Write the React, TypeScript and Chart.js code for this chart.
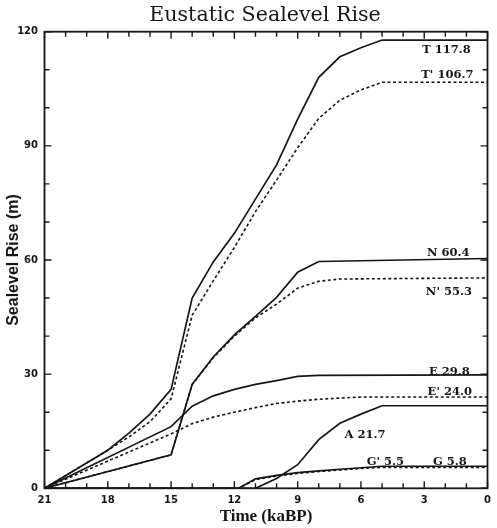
import React, { useEffect, useRef } from "react";
import { Chart, registerables } from "chart.js";

Chart.register(...registerables);

// ---- data: [time kaBP, sea-level rise m] ----
const T_SERIES: [number, number][] = [[21, 0], [18, 10], [17, 14.5], [16, 19.5], [15, 26], [14, 50], [13, 59.5], [12, 67], [11, 76], [10, 85], [9, 97], [8, 108], [7, 113.4], [6, 115.8], [5, 117.8], [0, 117.8]];
const T_PRIME: [number, number][] = [[21, 0], [18, 10], [17, 13.5], [16, 17.5], [15, 23.5], [14, 45.5], [13, 54.5], [12, 63.3], [11, 72.7], [10, 81], [9, 89.5], [8, 97.2], [7, 102], [6, 104.7], [5, 106.7], [0, 106.7]];
const N_SERIES: [number, number][] = [[21, 0], [15, 8.8], [14, 27.3], [13, 34.5], [12, 40.3], [11, 45.2], [10, 50.2], [9, 56.8], [8, 59.6], [0, 60.4]];
const N_PRIME: [number, number][] = [[21, 0], [15, 8.8], [14, 27.3], [13, 34.3], [12, 40], [11, 44.8], [10, 48.4], [9, 52.6], [8, 54.4], [7, 55], [0, 55.3]];
const E_SERIES: [number, number][] = [[21, 0], [15, 16.2], [14, 21.6], [13, 24.3], [12, 26], [11, 27.3], [10, 28.3], [9, 29.4], [8, 29.7], [0, 29.8]];
const E_PRIME: [number, number][] = [[21, 0], [15, 14.3], [14, 17], [13, 18.7], [12, 20], [11, 21.2], [10, 22.3], [9, 22.9], [8, 23.4], [7, 23.7], [6, 24], [0, 24]];
const A_SERIES: [number, number][] = [[21, 0], [11, 0], [10, 2.6], [9, 6.2], [8, 12.8], [7, 17.1], [6, 19.5], [5, 21.7], [0, 21.7]];
const G_SERIES: [number, number][] = [[21, 0], [11.8, 0], [11, 2.5], [10, 3.4], [9, 4.1], [8, 4.6], [7, 5.0], [6, 5.4], [5, 5.8], [0, 5.8]];
const G_PRIME: [number, number][] = [[21, 0], [11.8, 0], [11, 2.3], [10, 3.2], [9, 3.9], [8, 4.4], [7, 4.8], [6, 5.2], [5, 5.5], [0, 5.5]];

const X_MINOR_TICKS = [0, 1, 2, 3, 4, 5, 6, 7, 8, 9, 10, 11, 12, 13, 14, 15, 16, 17, 18, 19, 20, 21];
const Y_MINOR_TICKS = [0, 10, 20, 30, 40, 50, 60, 70, 80, 90, 100, 110, 120];

const TITLE = "Eustatic Sealevel Rise";
const X_TITLE = "Time (kaBP)";
const Y_TITLE = "Sealevel Rise (m)";

// curve labels anchored in data units (right-aligned)
const CURVE_LABELS = [
  { text: "T 117.8", x: 0.79, y: 115.2 },
  { text: "T' 106.7", x: 0.67, y: 108.6 },
  { text: "N 60.4", x: 0.85, y: 61.8 },
  { text: "N' 55.3", x: 0.74, y: 51.7 },
  { text: "E 29.8", x: 0.84, y: 30.5 },
  { text: "E' 24.0", x: 0.74, y: 25.3 },
  { text: "A 21.7", x: 4.84, y: 14.05 },
  { text: "G' 5.5", x: 3.96, y: 7.0 },
  { text: "G 5.8", x: 0.98, y: 7.0 },
];

const INK = "#161616";

const toPoints = (arr: [number, number][]) => arr.map(([x, y]) => ({ x, y }));

const framePlugin = {
  id: "frameTicks",
  afterDraw(chart: any) {
    const { ctx, chartArea, scales } = chart;
    const { left, right, top, bottom } = chartArea;
    const xs = scales.x;
    const ys = scales.y;
    ctx.save();
    ctx.strokeStyle = INK;
    ctx.lineWidth = 1.8;
    ctx.strokeRect(left, top, right - left, bottom - top);
    ctx.lineWidth = 1.4;
    ctx.beginPath();
    for (const v of X_MINOR_TICKS) {
      const px = xs.getPixelForValue(v);
      const len = v % 3 === 0 ? 7 : 5;
      ctx.moveTo(px, bottom);
      ctx.lineTo(px, bottom - len);
      ctx.moveTo(px, top);
      ctx.lineTo(px, top + len);
    }
    for (const v of Y_MINOR_TICKS) {
      const py = ys.getPixelForValue(v);
      const len = v % 30 === 0 ? 7 : 5;
      ctx.moveTo(left, py);
      ctx.lineTo(left + len, py);
      ctx.moveTo(right, py);
      ctx.lineTo(right - len, py);
    }
    ctx.stroke();

    ctx.fillStyle = INK;
    ctx.font = 'bold 11.5px "DejaVu Serif"';
    ctx.textAlign = "right";
    ctx.textBaseline = "middle";
    for (const l of CURVE_LABELS) {
      ctx.fillText(l.text, xs.getPixelForValue(l.x), ys.getPixelForValue(l.y));
    }

    ctx.font = '20.6px "DejaVu Serif"';
    ctx.textAlign = "center";
    ctx.textBaseline = "middle";
    ctx.fillText(TITLE, (left + right) / 2 - 1, 16);
    ctx.restore();
  },
};

export default function App() {
  const canvasRef = useRef<HTMLCanvasElement | null>(null);

  useEffect(() => {
    if (!canvasRef.current) return;
    const solid = { borderColor: INK, borderWidth: 1.7, pointRadius: 0, fill: false, tension: 0 };
    const dashed = { ...solid, borderWidth: 1.6, borderDash: [3, 2.5] };
    const chart = new Chart(canvasRef.current, {
      type: "line",
      data: {
        datasets: [
          { label: "T", data: toPoints(T_SERIES), ...solid },
          { label: "T'", data: toPoints(T_PRIME), ...dashed },
          { label: "N", data: toPoints(N_SERIES), ...solid },
          { label: "N'", data: toPoints(N_PRIME), ...dashed },
          { label: "E", data: toPoints(E_SERIES), ...solid },
          { label: "E'", data: toPoints(E_PRIME), ...dashed },
          { label: "A", data: toPoints(A_SERIES), ...solid },
          { label: "G", data: toPoints(G_SERIES), ...solid },
          { label: "G'", data: toPoints(G_PRIME), ...dashed },
        ],
      },
      options: {
        responsive: false,
        animation: false,
        layout: { padding: { top: 31.7, right: 6.3, bottom: 0, left: 0 } },
        plugins: { legend: { display: false }, tooltip: { enabled: false }, title: { display: false } },
        scales: {
          x: {
            type: "linear",
            reverse: true,
            min: 0,
            max: 21,
            grid: { display: false, drawTicks: false },
            border: { display: false },
            ticks: {
              stepSize: 3,
              padding: 6,
              color: INK,
              font: { family: "DejaVu Sans", weight: "bold", size: 10 },
            },
            title: {
              display: true,
              text: X_TITLE,
              color: INK,
              font: { family: "Liberation Serif", weight: "bold", size: 17 },
              padding: { top: 0, bottom: 1 },
            },
            afterFit: (s: any) => {
              s.height = 39.7;
            },
          },
          y: {
            type: "linear",
            min: 0,
            max: 120,
            grid: { display: false, drawTicks: false },
            border: { display: false },
            ticks: {
              stepSize: 30,
              padding: 6.5,
              color: INK,
              font: { family: "DejaVu Sans", weight: "bold", size: 10 },
            },
            title: {
              display: true,
              text: Y_TITLE,
              color: INK,
              font: { family: "Liberation Sans", weight: "bold", size: 16 },
              padding: { top: 3.5, bottom: 0 },
            },
            afterFit: (s: any) => {
              s.width = 44.5;
            },
          },
        },
      },
      plugins: [framePlugin],
    } as any);
    return () => chart.destroy();
  }, []);

  return (
    <div style={{ position: "absolute", left: 0, top: 0, width: 497, height: 528, background: "#fff" }}>
      <canvas ref={canvasRef} width={497} height={528} style={{ display: "block" }} />
    </div>
  );
}
